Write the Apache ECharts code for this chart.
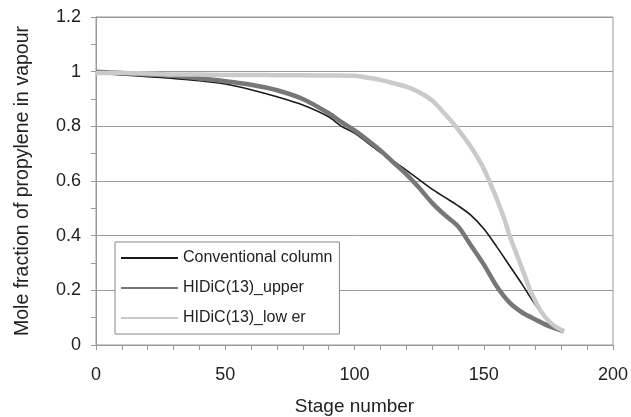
<!DOCTYPE html>
<html>
<head>
<meta charset="utf-8">
<script src="https://cdn.jsdelivr.net/npm/echarts@6/dist/echarts.min.js"></script>
<style>html,body{margin:0;padding:0;background:#fff}#c{width:631px;height:417px}</style>
</head>
<body>
<div id="c"></div>
<script>
var seriesNames = ['Conventional column', 'HIDiC(13)_upper', 'HIDiC(13)_low er'];

var convStage = [0, 10, 20, 30, 40, 50, 60, 70, 80, 90, 95, 100, 110, 120, 130, 135, 140, 145, 150, 155, 160, 165, 168, 172, 176, 180];
var convValue = [0.995, 0.988, 0.982, 0.975, 0.967, 0.955, 0.934, 0.908, 0.878, 0.835, 0.80, 0.775, 0.705, 0.64, 0.57, 0.54, 0.51, 0.475, 0.425, 0.36, 0.29, 0.22, 0.175, 0.12, 0.075, 0.05];

var upperStage = [0, 10, 20, 30, 40, 50, 60, 70, 80, 90, 95, 100, 105, 110, 115, 120, 125, 130, 135, 140, 145, 150, 155, 160, 165, 170, 175, 181];
var upperValue = [1.0, 0.995, 0.99, 0.985, 0.975, 0.965, 0.952, 0.932, 0.90, 0.848, 0.815, 0.785, 0.75, 0.712, 0.668, 0.625, 0.575, 0.52, 0.475, 0.435, 0.365, 0.295, 0.215, 0.155, 0.118, 0.093, 0.07, 0.05];

var lowerStage = [0, 10, 20, 30, 40, 50, 60, 70, 80, 90, 100, 105, 110, 115, 120, 125, 130, 135, 140, 145, 150, 155, 158, 160, 162, 164, 166, 168, 172, 176, 181];
var lowerValue = [0.995, 0.995, 0.993, 0.99, 0.99, 0.988, 0.988, 0.987, 0.987, 0.986, 0.985, 0.978, 0.97, 0.958, 0.945, 0.925, 0.895, 0.845, 0.79, 0.725, 0.645, 0.535, 0.46, 0.40, 0.35, 0.30, 0.25, 0.20, 0.125, 0.08, 0.05];

function pairs(xs, ys) { return xs.map(function (x, i) { return [x, ys[i]]; }); }

var chart = echarts.init(document.getElementById('c'), null, { renderer: 'canvas' });
var fontFam = '"Liberation Sans", Arial, sans-serif';
chart.setOption({
  animation: false,
  backgroundColor: '#fff',
  textStyle: { fontFamily: fontFam },
  grid: { left: 96, right: 18, top: 17, bottom: 72, show: true, borderColor: '#999', borderWidth: 1, outerBoundsMode: 'none', containLabel: false },
  legend: {
    left: 115, top: 242, orient: 'vertical',
    itemWidth: 57, itemHeight: 14, itemGap: 14,
    padding: [8, 7, 8, 5],
    backgroundColor: '#fff', borderColor: '#888', borderWidth: 1,
    itemStyle: { opacity: 0 },
    textStyle: { fontSize: 16, color: '#222', fontFamily: fontFam },
    data: seriesNames
  },
  xAxis: {
    type: 'value', min: 0, max: 200, interval: 50,
    name: 'Stage number', nameLocation: 'middle', nameGap: 52,
    nameTextStyle: { fontSize: 19, color: '#222', fontFamily: fontFam },
    axisLine: { show: true, lineStyle: { color: '#999' } },
    axisTick: { show: true, length: 5, lineStyle: { color: '#999' } },
    minorTick: { show: true, splitNumber: 5, length: 5, lineStyle: { color: '#999' } },
    splitLine: { show: false },
    axisLabel: { fontSize: 18, color: '#222', margin: 21, fontFamily: fontFam }
  },
  yAxis: {
    type: 'value', min: 0, max: 1.2, interval: 0.2,
    name: 'Mole fraction of propylene in vapour', nameLocation: 'middle', nameGap: 63,
    nameTextStyle: { fontSize: 19.5, color: '#222', fontFamily: fontFam },
    axisLine: { show: true, lineStyle: { color: '#999' } },
    axisTick: { show: true, length: 5, lineStyle: { color: '#999' } },
    minorTick: { show: true, splitNumber: 2, length: 5, lineStyle: { color: '#999' } },
    splitLine: { show: true, lineStyle: { color: '#999', width: 1 } },
    axisLabel: { fontSize: 18, color: '#222', margin: 15, fontFamily: fontFam }
  },
  series: [
    { name: seriesNames[0], type: 'line', data: pairs(convStage, convValue), symbol: 'none', smooth: 0.3,
      lineStyle: { color: '#1a1a1a', width: 1.6 }, itemStyle: { color: '#1a1a1a' } },
    { name: seriesNames[1], type: 'line', data: pairs(upperStage, upperValue), symbol: 'none', smooth: 0.3,
      lineStyle: { color: '#777', width: 4.5 }, itemStyle: { color: '#777' } },
    { name: seriesNames[2], type: 'line', data: pairs(lowerStage, lowerValue), symbol: 'none', smooth: 0.3,
      lineStyle: { color: '#cacaca', width: 4.5 }, itemStyle: { color: '#cacaca' } }
  ]
});
</script>
</body>
</html>
